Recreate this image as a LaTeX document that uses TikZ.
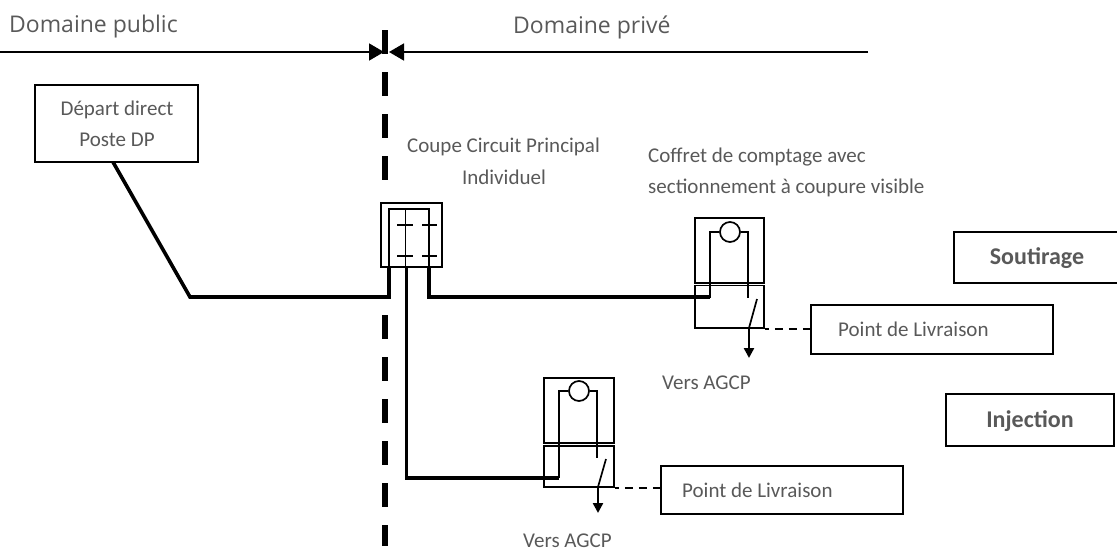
\documentclass[tikz,border=0pt]{standalone}
\usepackage{fontspec}
\setmainfont{Carlito}
\newfontfamily\headfont{Open Sans}
\usetikzlibrary{arrows.meta}
\definecolor{txtgray}{HTML}{595959}
\tikzset{
  lbl/.style={text=txtgray,font=\fontsize{21}{24}\selectfont,inner sep=0pt},
  headlbl/.style={text=txtgray,font=\headfont\fontsize{23}{26}\selectfont,inner sep=0pt,anchor=west},
  boldlbl/.style={text=txtgray,font=\fontsize{24}{28}\selectfont\bfseries,inner sep=0pt},
  boxed/.style={draw=black,fill=white,line width=1.7pt,rectangle,inner sep=0pt},
  thin wire/.style={line width=1.7pt},
  thick wire/.style={line width=3.6pt,line join=miter},
  limit/.style={line width=6pt,dash pattern=on 24pt off 18pt},
  big arrow/.style={line width=1.6pt,-{Triangle[length=15pt,width=17pt]}},
  drop/.style={line width=2.4pt,-{Triangle[length=10pt,width=10pt]}},
  link/.style={line width=1.6pt,dash pattern=on 8pt off 6pt,dash phase=4pt},
}
\begin{document}
\begin{tikzpicture}[x=1pt,y=-1pt]
\useasboundingbox (0,0) rectangle (1117,552);
\node[headlbl] (public) at (9,27) {Domaine public};
\node[headlbl] (prive) at (513,27) {Domaine privé};
\coordinate (limtop) at (385,30);
\coordinate (limmid) at (385,181);
\coordinate (limlow) at (385,315);
\coordinate (limend) at (385,546);
\draw[limit] (limtop) -- (limmid);
\draw[limit] (limlow) -- (limend);
\coordinate (arrowl) at (0,52);
\coordinate (arrowlend) at (384,52);
\coordinate (arrowr) at (868,52);
\coordinate (arrowrend) at (389,52);
\draw[big arrow] (arrowl) -- (arrowlend);
\draw[big arrow] (arrowr) -- (arrowrend);

\node[boxed,minimum width=163pt,minimum height=77pt] (depart) at (116.5,123.5) {};
\node[lbl] (depart1) at (117,110) {Départ direct};
\node[lbl] (depart2) at (117,140) {Poste DP};
\coordinate (departout) at (113,162);
\coordinate (bend) at (190,297);

\node[boxed,minimum width=61pt,minimum height=64pt] (ccpi) at (411.5,235) {};
\node[lbl,anchor=west] (ccpi1) at (407,147) {Coupe Circuit Principal};
\node[lbl] (ccpi2) at (504,177) {Individuel};
\coordinate (pa) at (389,209);
\coordinate (pb) at (429,209);
\coordinate (pc) at (405.5,209);
\coordinate (pa2) at (389,267);
\coordinate (pb2) at (429,267);
\coordinate (pc2) at (405.5,267);
\draw[thin wire] (pa2) -- (pa) -- (pb) -- (pb2);
\draw[thin wire] (pc) -- (pc2);
\coordinate (bar1) at (397,225);
\coordinate (bar1e) at (413,225);
\coordinate (bar2) at (422,225);
\coordinate (bar2e) at (437,225);
\coordinate (bar3) at (397,256);
\coordinate (bar3e) at (413,256);
\coordinate (bar4) at (422,256);
\coordinate (bar4e) at (437,256);
\draw[thin wire] (bar1) -- (bar1e);
\draw[thin wire] (bar2) -- (bar2e);
\draw[thin wire] (bar3) -- (bar3e);
\draw[thin wire] (bar4) -- (bar4e);

\node[lbl,anchor=west] (coffret1) at (648,157) {Coffret de comptage avec};
\node[lbl,anchor=west] (coffret2) at (648,188) {sectionnement à coupure visible};
\node[boxed,minimum width=69pt,minimum height=65pt] (metera) at (729.5,250.5) {};
\node[boxed,minimum width=69pt,minimum height=42.5pt] (switcha) at (729.5,306.75) {};
\node[draw,thin wire,circle,minimum size=20pt,inner sep=0pt] (diala) at (730,232) {};
\draw[thin wire] (710,298) -- (710,232) -- (diala);
\draw[thin wire] (diala) -- (748,232) -- (748,298);
\coordinate (bladea) at (757,299);
\coordinate (pivota) at (749,328);
\coordinate (dropa) at (749,358);
\draw[thin wire] (bladea) -- (pivota);
\draw[drop] (pivota) -- (dropa);
\node[lbl,anchor=west] (agcpa) at (662,383) {Vers AGCP};
\node[boxed,minimum width=242pt,minimum height=49pt] (livra) at (932,329.5) {};
\node[lbl,anchor=west] (livratxt) at (838,329) {Point de Livraison};
\draw[link] (switcha.south east) -- (switcha.south east -| livra.west);

\node[boxed,minimum width=70pt,minimum height=65pt] (meterb) at (579,410.5) {};
\node[boxed,minimum width=70pt,minimum height=41.5pt] (switchb) at (579,466.5) {};
\node[draw,thin wire,circle,minimum size=20pt,inner sep=0pt] (dialb) at (579,391) {};
\draw[thin wire] (559,478) -- (559,391) -- (dialb);
\draw[thin wire] (dialb) -- (597,391) -- (597,458);
\coordinate (bladeb) at (606,459);
\coordinate (pivotb) at (598,487);
\coordinate (dropb) at (598,513);
\draw[thin wire] (bladeb) -- (pivotb);
\draw[drop] (pivotb) -- (dropb);
\node[lbl,anchor=west] (agcpb) at (523,541) {Vers AGCP};
\node[boxed,minimum width=242pt,minimum height=48pt] (livrb) at (782,490) {};
\node[lbl,anchor=west] (livrbtxt) at (682,490) {Point de Livraison};
\draw[link] (switchb.south east) -- (switchb.south east -| livrb.west);

\draw[thick wire] (departout) -- (bend) -- (389,297) -- (pa2);
\draw[thick wire] (pb2) -- (429,297) -- (710,297);
\draw[thick wire] (406.5,267) -- (406.5,478) -- (559,478);

\node[boxed,minimum width=175pt,minimum height=51pt] (soutirage) at (1041.5,257.5) {};
\node[boldlbl] (soutiragetxt) at (1037,258) {Soutirage};
\node[boxed,minimum width=168pt,minimum height=52pt] (injection) at (1030,420) {};
\node[boldlbl] (injectiontxt) at (1030,421) {Injection};
\end{tikzpicture}
\end{document}
